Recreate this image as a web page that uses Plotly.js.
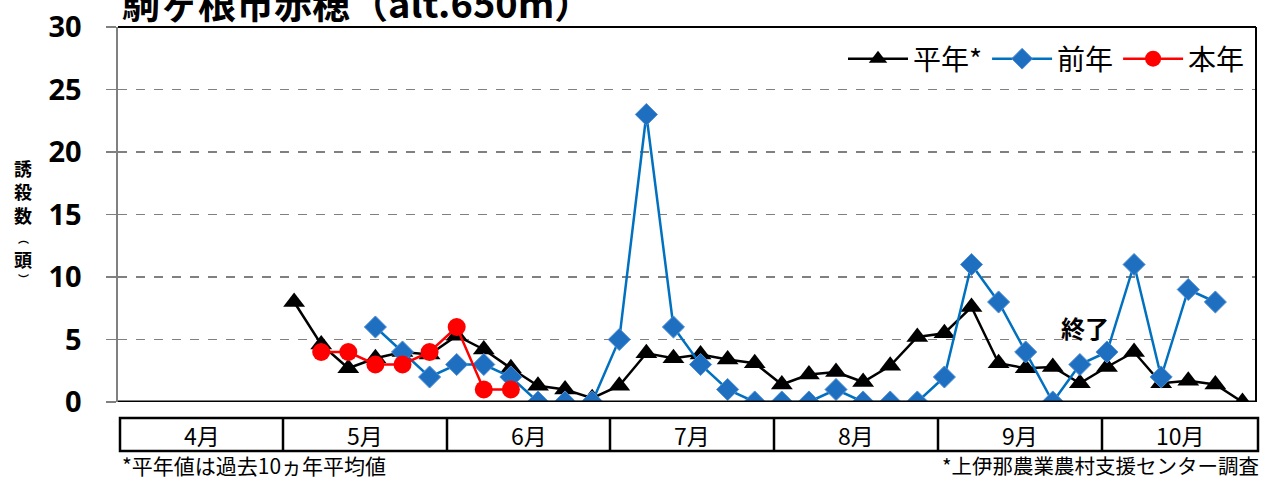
<!DOCTYPE html>
<html><head><meta charset="utf-8">
<script src="https://cdn.plot.ly/plotly-3.0.1.min.js"></script>
<style>html,body{margin:0;padding:0;background:#fff}#chart{width:1262px;height:479px}</style>
</head><body><div id="chart"></div>
<script>
// Categories: 半旬 (5-day periods), 6 per month, April to October
const months = ["4月","5月","6月","7月","8月","9月","10月"];
const categories = [];
months.forEach(m => { for (let h = 1; h <= 6; h++) categories.push(m + h + "半旬"); });

const N = null;
// 平年* (10-year average)
const normalVals = [N,N,N,N,N,N,
  8.0,4.6,2.7,3.5,4.0,3.8,
  5.3,4.2,2.7,1.3,1.0,0.3,
  1.3,3.9,3.5,3.8,3.4,3.1,
  1.4,2.2,2.4,1.6,2.9,5.2,
  5.5,7.6,3.1,2.7,2.8,1.5,
  2.8,4.0,1.5,1.7,1.4,0];
// 前年 (previous year)
const prevVals = [N,N,N,N,N,N,
  N,N,N,6,4,2,
  3,3,2,0,0,0,
  5,23,6,3,1,0,
  0,0,1,0,0,0,
  2,11,8,4,0,3,
  4,11,2,9,8,N];
// 本年 (this year)
const thisVals = [N,N,N,N,N,N,
  N,4,4,3,3,4,
  6,1,1,N,N,N,
  N,N,N,N,N,N,
  N,N,N,N,N,N,
  N,N,N,N,N,N,
  N,N,N,N,N,N];

const seriesNames = ["平年*","前年","本年"];
const yTicks = [0,5,10,15,20,25,30];
const titleText = "駒ヶ根市赤穂（alt.650m）";
const endLabel = "終了";
const endLabelPos = {x: 35.2, y: 6};
const yTitleMain = "誘<br>殺<br>数";
const yTitleUnit = ["︵","頭","︶"];
const noteLeft = "*平年値は過去10ヵ年平均値";
const noteRight = "*上伊那農業農村支援センター調査";

const W = 1262, H = 479;
const M = {l:118, r:6, t:27, b:77};
const plotW = W - M.l - M.r, plotH = H - M.t - M.b;
const px2paperX = px => (px - M.l) / plotW;
const px2paperY = py => (H - M.b - py) / plotH;

const JP = '"Noto Sans CJK JP", "Noto Sans", sans-serif';

const traces = [
  {x: categories, y: normalVals, name: seriesNames[0], type: 'scatter', mode: 'lines+markers',
   line: {color: '#000000', width: 2.5},
   marker: {symbol: 'triangle-up', size: 19, color: '#000000'}},
  {x: categories, y: prevVals, name: seriesNames[1], type: 'scatter', mode: 'lines+markers',
   line: {color: '#0070C0', width: 2.5},
   marker: {symbol: 'diamond', size: 17, color: '#1F6FC0', line: {color: '#4F8FD6', width: 1}}},
  {x: categories, y: thisVals, name: seriesNames[2], type: 'scatter', mode: 'lines+markers',
   line: {color: '#FF0000', width: 2.5},
   marker: {symbol: 'circle', size: 18, color: '#FF0000'}}
];

// month table below the plot (edges in pixels, layout decoration)
const monthEdgesPx = [120, 283, 447, 610, 774, 938, 1102, 1258];
const tableTop = 418, tableBot = 451;
const shapes = [
  {type:'line', xref:'paper', yref:'paper', x0:0, x1:1, y0:1, y1:1, line:{color:'#000', width:2}},
  {type:'line', xref:'paper', yref:'paper', x0:1, x1:1, y0:0, y1:1, line:{color:'#000', width:2}},
  {type:'line', xref:'paper', yref:'y', x0:0, x1:1, y0:0, y1:0, line:{color:'#000', width:3}},
  {type:'rect', xref:'paper', yref:'paper',
   x0:px2paperX(monthEdgesPx[0]), x1:px2paperX(monthEdgesPx[7]),
   y0:px2paperY(tableTop), y1:px2paperY(tableBot), line:{color:'#000', width:2.5}}
];
for (let i = 1; i < monthEdgesPx.length - 1; i++) {
  shapes.push({type:'line', xref:'paper', yref:'paper', x0:px2paperX(monthEdgesPx[i]), x1:px2paperX(monthEdgesPx[i]),
    y0:px2paperY(tableTop), y1:px2paperY(tableBot), line:{color:'#000', width:2.5}});
}

const annotations = [];
months.forEach((m, i) => {
  annotations.push({xref:'paper', yref:'paper', x:px2paperX((monthEdgesPx[i]+monthEdgesPx[i+1])/2),
    y:px2paperY((tableTop+tableBot)/2), text:m, showarrow:false, xanchor:'center', yanchor:'middle',
    font:{family:JP, size:23, color:'#000'}});
});
annotations.push({xref:'paper', yref:'paper', x:px2paperX(121), y:px2paperY(465), text:noteLeft,
  showarrow:false, xanchor:'left', yanchor:'middle', borderpad:0, font:{family:JP, size:21, color:'#000'}});
annotations.push({xref:'paper', yref:'paper', x:px2paperX(1260), y:px2paperY(465), text:noteRight,
  showarrow:false, xanchor:'right', yanchor:'middle', borderpad:0, font:{family:JP, size:20.5, color:'#000'}});
annotations.push({xref:'x', yref:'y', x:endLabelPos.x, y:endLabelPos.y, text:'<b>'+endLabel+'</b>',
  showarrow:false, xanchor:'center', yanchor:'middle', font:{family:JP, size:24, color:'#000'}});
annotations.push({xref:'paper', yref:'paper', x:px2paperX(120), y:px2paperY(1), text:'<b>'+titleText+'</b>',
  showarrow:false, xanchor:'left', yanchor:'middle', font:{family:JP, size:38, color:'#000'}});
// y-axis title, upright stacked characters
annotations.push({xref:'paper', yref:'paper', x:px2paperX(23), y:px2paperY(192), text:'<b>'+yTitleMain+'</b>',
  showarrow:false, xanchor:'center', yanchor:'middle', borderpad:0,
  font:{family:JP, size:18, color:'#000', weight:'bold'}});
const unitYs = [238, 259, 279];
const unitSizes = [11, 18, 11];
yTitleUnit.forEach((c, i) => {
  annotations.push({xref:'paper', yref:'paper', x:px2paperX(23), y:px2paperY(unitYs[i]), text:'<b>'+c+'</b>',
    showarrow:false, xanchor:'center', yanchor:'middle', borderpad:0,
    font:{family:JP, size:unitSizes[i], color:'#000', weight:'bold'}});
});

const layout = {
  width: W, height: H,
  margin: M,
  paper_bgcolor: '#fff', plot_bgcolor: '#fff',
  showlegend: true,
  legend: {orientation:'h', x:px2paperX(1250), xanchor:'right', y:px2paperY(59), yanchor:'middle',
    bgcolor:'rgba(0,0,0,0)', font:{family:JP, size:28, color:'#000'}, itemwidth:60, tracegroupgap:0},
  xaxis: {type:'category', range:[-0.5, categories.length - 0.5], showticklabels:false, showgrid:false,
    zeroline:false, showline:false, ticks:'', fixedrange:true},
  yaxis: {range:[0,30], tickvals:yTicks, ticktext:yTicks.map(String), showgrid:true, gridcolor:'#808080',
    griddash:'dash', gridwidth:1.5, zeroline:false, showline:true, linecolor:'#808080', linewidth:2.5,
    ticks:'outside', ticklen:10, tickcolor:'#808080', tickwidth:1.5, ticklabelstandoff:18,
    tickfont:{family:'"Noto Sans", sans-serif', size:29, color:'#000', weight:'bold'}, fixedrange:true},
  shapes: shapes,
  annotations: annotations
};

Plotly.newPlot('chart', traces, layout, {displayModeBar:false, staticPlot:true});
</script></body></html>
